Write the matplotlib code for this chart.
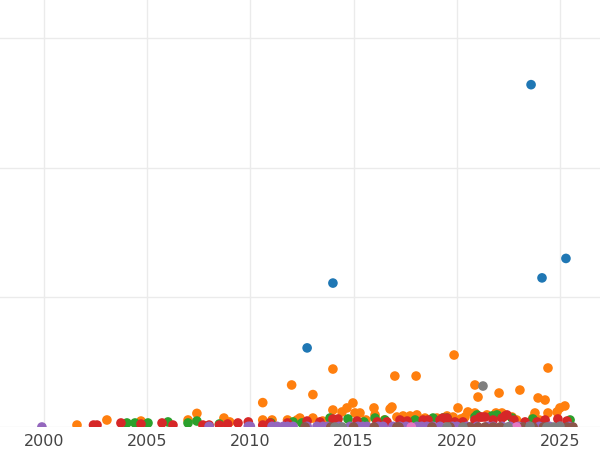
import matplotlib
matplotlib.use("Agg")
import matplotlib.pyplot as plt

# values (year, value); y units: one grid step = 100
blue_x = [2012.75, 2014.0, 2023.6, 2024.13, 2025.29]
blue_y = [61, 111, 264, 115, 130]

orange_x = [2001.6, 2003.05, 2004.7, 2006.98, 2007.41, 2008.72, 2009.0, 2010.6, 2010.6,
            2011.05, 2011.8, 2012.0, 2012.26, 2012.4, 2013.03, 2013.03, 2013.5, 2014.0,
            2014.0, 2014.44, 2014.68, 2014.97, 2015.07, 2015.31, 2015.6, 2015.99, 2016.04,
            2016.5, 2016.77, 2016.86, 2017.0, 2017.1, 2017.4, 2017.74, 2018.03, 2018.07,
            2018.46, 2018.5, 2019.04, 2019.2, 2019.53, 2019.82, 2019.87, 2020.06, 2020.2,
            2020.4, 2020.54, 2020.88, 2020.88, 2021.03, 2021.46, 2021.9, 2022.05, 2022.19,
            2022.68, 2022.9, 2023.06, 2023.69, 2023.79, 2023.94, 2024.0, 2024.28, 2024.42,
            2024.42, 2024.86, 2025.0, 2025.24]
orange_y = [1.5, 5.4, 4.6, 5.4, 10.5, 6.9, 3.9, 18.8, 5.4,
            5.4, 5.4, 32.4, 5.4, 6.9, 25.0, 6.9, 4.6, 44.7,
            13.1, 11.6, 14.7, 18.5, 10.8, 10.8, 5.4, 14.7, 9.3,
            5.4, 13.9, 15.4, 39.3, 7.7, 8.5, 8.5, 39.3, 9.3,
            6.9, 4.6, 6.9, 5.4, 8.5, 7.7, 55.5, 14.7, 6.2,
            7.7, 11.6, 32.4, 10.8, 23.1, 9.3, 10.8, 26.2, 10.8,
            7.7, 5.4, 28.5, 6.9, 10.8, 22.4, 5.4, 20.8, 45.5,
            10.8, 11.6, 14.7, 16.2]

green_x = [2004.02, 2004.41, 2005.04, 2006.01, 2006.98, 2007.41, 2008.5, 2011.0, 2012.07,
           2012.5, 2013.86, 2014.73, 2015.5, 2016.04, 2016.52, 2017.98, 2018.85, 2019.33,
           2019.53, 2020.88, 2020.98, 2021.71, 2021.95, 2022.68, 2023.69, 2025.49]
green_y = [3.1, 3.1, 3.1, 3.9, 3.1, 4.6, 2.3, 3.1, 3.9,
           3.1, 6.9, 6.2, 3.9, 6.9, 5.4, 5.4, 6.9, 6.9,
           6.9, 7.7, 9.3, 8.5, 9.3, 6.9, 6.2, 5.4]

red_x = [2002.4, 2002.57, 2003.73, 2004.7, 2005.72, 2006.25, 2007.7, 2008.0, 2008.5,
         2008.9, 2009.4, 2009.9, 2010.6, 2010.95, 2011.8, 2012.75, 2013.37, 2014.0,
         2014.25, 2015.17, 2016.14, 2016.62, 2017.25, 2017.6, 2018.37, 2018.61, 2019.19,
         2019.33, 2019.53, 2019.91, 2020.3, 2020.88, 2021.13, 2021.22, 2021.37, 2021.76,
         2022.19, 2022.34, 2022.43, 2022.77, 2023.31, 2023.89, 2024.28, 2024.9, 2025.34]
red_y = [1.5, 1.5, 3.1, 2.3, 3.1, 1.5, 1.5, 1.5, 1.5,
         2.3, 3.1, 3.9, 1.5, 3.1, 3.1, 4.6, 3.9, 6.2,
         6.2, 4.6, 3.9, 3.9, 5.4, 4.6, 5.4, 5.4, 5.4,
         6.9, 6.9, 3.9, 3.9, 5.4, 7.7, 7.7, 7.7, 5.4,
         6.9, 8.5, 9.3, 5.4, 3.9, 3.9, 5.4, 6.2, 4.6]

purple_x = [1999.9, 2008.0, 2009.9, 2010.0, 2011.05, 2011.3, 2011.6, 2011.8, 2012.07,
            2012.75, 2013.23, 2013.52, 2013.75, 2014.3, 2014.83, 2015.22, 2015.45, 2015.65,
            2016.2, 2016.43, 2016.91, 2017.25, 2017.55, 2018.07, 2018.3, 2018.56, 2018.85,
            2019.19, 2019.8, 2020.01, 2020.5, 2020.98, 2021.5, 2021.76, 2022.2, 2022.58,
            2023.0, 2023.5, 2024.0, 2024.5, 2025.0, 2025.45]
purple_y = [0] + [0.5] * 41

brown_x = [2012.65, 2013.9, 2015.0, 2016.0, 2017.1, 2017.2, 2018.8, 2019.67, 2020.64,
           2021.03, 2021.37, 2021.76, 2022.1, 2023.21, 2023.7, 2024.2, 2025.34, 2025.63]
brown_y = [0] * 18

pink_x = [2017.8, 2022.9]
pink_y = [0, 0]

gray_x = [2014.1, 2014.45, 2019.53, 2020.3, 2021.27, 2022.48, 2023.55, 2024.37, 2024.7, 2025.0]
gray_y = [0, 0, 0, 0, 31.6, 0, 0.5, 0, 0, 0.5]

series = [
    (blue_x, blue_y, "#1f77b4"),
    (orange_x, orange_y, "#ff7f0e"),
    (green_x, green_y, "#2ca02c"),
    (red_x, red_y, "#d62728"),
    (purple_x, purple_y, "#9467bd"),
    (brown_x, brown_y, "#8c564b"),
    (pink_x, pink_y, "#e377c2"),
    (gray_x, gray_y, "#7f7f7f"),
]

fig = plt.figure(figsize=(6, 4.5), dpi=100)
ax = fig.add_axes([0, 23 / 450, 1, 427 / 450])

for xs, ys, col in series:
    ax.scatter(xs, ys, s=48, color=col, edgecolors="none", zorder=3)

ax.set_xlim(1997.87, 2026.94)
ax.set_ylim(0, 329.3)
ax.set_xticks([2000, 2005, 2010, 2015, 2020, 2025])
ax.set_yticks([0, 100, 200, 300])
ax.set_yticklabels([])
ax.grid(True, color="#ebebeb", linewidth=1, zorder=0)
ax.set_axisbelow(True)
for sp in ax.spines.values():
    sp.set_visible(False)
ax.tick_params(axis="both", length=0)
ax.tick_params(axis="x", labelsize=11.5, labelcolor="#444444", pad=5)

fig.savefig("out.png", dpi=100)
